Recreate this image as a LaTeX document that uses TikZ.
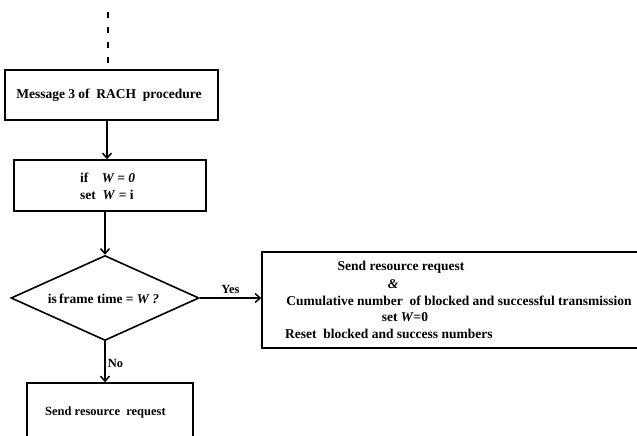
\documentclass[tikz,border=0pt]{standalone}
\usepackage{fontspec}
\setmainfont{Liberation Serif}
\usetikzlibrary{arrows.meta,shapes.geometric}
\begin{document}
\begin{tikzpicture}[x=1pt,y=-1pt,
  box/.style={draw=black,line width=1.6pt,fill=white,inner sep=0pt},
  txt/.style={font=\fontsize{13.5}{16}\selectfont\bfseries,inner sep=0pt,anchor=center},
  smalltxt/.style={font=\fontsize{12.5}{15}\selectfont\bfseries,inner sep=0pt},
  flow/.style={line width=1.5pt,-{Straight Barb[length=5pt,width=9pt,line width=1.5pt]}},
  dec/.style={draw=black,line width=1.6pt,shape=diamond,minimum width=188pt,minimum height=85pt,inner sep=0pt,aspect=2.2}
]
\useasboundingbox (0,0) rectangle (637,436);
\clip (0,0) rectangle (637,436);
\fill[white] (0,0) rectangle (637,436);

% dashed entry
\coordinate (dtop) at (108,12);
\coordinate (dbot) at (108,63);
\draw[line width=2pt,dash pattern=on 6.5pt off 8.5pt] (dtop) -- (dbot);

% box 1
\node[box,minimum width=213pt,minimum height=50pt] (msg3) at (111.5,95) {};
\node[txt] (msg3t) at (109,95) {Message 3 of\ \ RACH\ \ procedure};

% box 2
\node[box,minimum width=192pt,minimum height=51pt] (setw) at (110,185.5) {};
\node[txt,anchor=west] (ifw) at (80,178) {if\quad \textit{W = 0}};
\node[txt,anchor=west] (setwt) at (80,194.5) {set\ \ \textit{W} = i};

% diamond
\node[dec] (dec) at (105,298) {};
\node[txt] (dect) at (103.5,299) {is\,frame time = \textit{W ?}};

% right box
\node[box,minimum width=390pt,minimum height=96pt] (yesbox) at (457,300) {};
\node[txt] (y1) at (401,267) {Send resource request};
\node[txt] (y2) at (393,284) {\textit{\&}};
\node[txt] (y3) at (459,301) {Cumulative number\ \ of blocked and successful transmission};
\node[txt] (y4) at (405,317.5) {set \textit{W}=0};
\node[txt,anchor=west] (y5) at (285,334) {Reset\ \ blocked and success numbers};

% bottom box
\node[box,minimum width=166pt,minimum height=70pt] (nobox) at (110,418) {};
\node[smalltxt,anchor=west] (not) at (45,412) {Send resource\ \ request};

% connectors
\draw[flow] (msg3.south -| 107,0) -- (setw.north -| 107,0);
\draw[flow] (setw.south -| 105,0) -- (dec.north);
\draw[flow] (dec.east) -- node[smalltxt,above=4pt] (yes) {Yes} (yesbox.west |- dec.east);
\draw[flow] (dec.south) -- node[smalltxt,right=2pt,pos=0.55] (no) {No} (nobox.north -| dec.south);
\end{tikzpicture}
\end{document}
